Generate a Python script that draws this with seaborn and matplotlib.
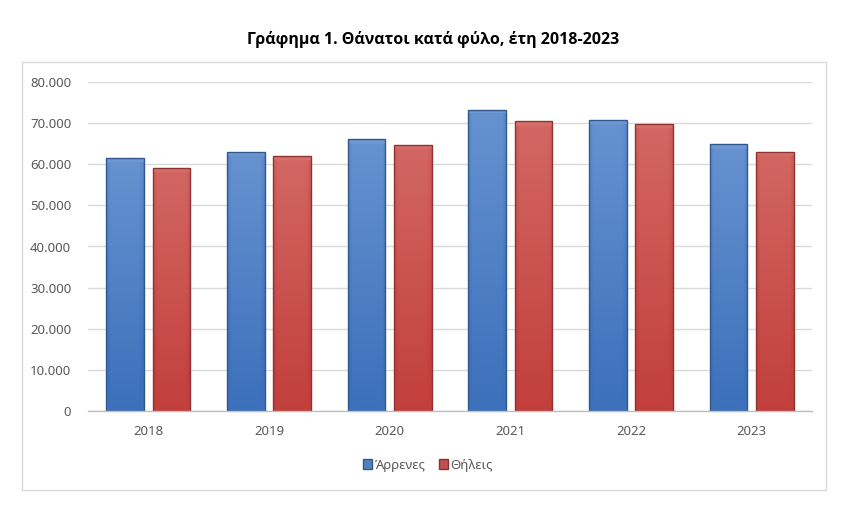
import matplotlib
matplotlib.use("Agg")
import matplotlib.pyplot as plt
import matplotlib.patches as mpatches
from matplotlib.ticker import FuncFormatter
from matplotlib.colors import LinearSegmentedColormap
import numpy as np
import pandas as pd
import seaborn as sns

years = ["2018", "2019", "2020", "2021", "2022", "2023"]
males = [61500, 63100, 66100, 73300, 70800, 64900]
females = [59000, 61900, 64800, 70400, 69900, 63100]
series_names = ["Άρρενες", "Θήλεις"]
title = "Γράφημα 1. Θάνατοι κατά φύλο, έτη 2018-2023"

df = pd.DataFrame({
    "year": years * 2,
    "value": males + females,
    "sex": [series_names[0]] * len(years) + [series_names[1]] * len(years),
})

sns.set_theme(style="white")
plt.rcParams["font.family"] = ["Noto Sans", "DejaVu Sans"]

fig = plt.figure(figsize=(8.62, 5.05), dpi=100)
ax = fig.add_axes([88/862, 94/505, 724/862, 329/505])

colors = {"Άρρενες": "#4F81BD", "Θήλεις": "#C0504D"}
edges = {"Άρρενες": "#31598C", "Θήλεις": "#8C3431"}
sns.barplot(data=df, x="year", y="value", hue="sex", palette=colors,
            width=0.77, gap=0.19, ax=ax, legend=False, saturation=1)

grad = {"Άρρενες": ("#3C70BB", "#6E98D4"), "Θήλεις": ("#C23F3C", "#D66E6A")}
n = len(years)
for i, p in enumerate(ax.patches):
    key = series_names[0] if i < n else series_names[1]
    cmap = LinearSegmentedColormap.from_list("g", [grad[key][0], grad[key][1]])
    x0, y0 = p.get_x(), p.get_y()
    w, h = p.get_width(), p.get_height()
    xs = np.linspace(0, 1, 60)
    side = 1 - np.clip(np.minimum(xs, 1 - xs) / 0.12, 0, 1)
    vert = np.linspace(0, 1, 300)[:, None]
    img = vert * 0.85 - side[None, :] * 0.25
    top_frac = 4.0 / (h / 80000 * 329)
    img = np.where(vert > 1 - top_frac, 1.0, img)
    im = ax.imshow(img, cmap=cmap, vmin=0, vmax=1, aspect="auto",
                   extent=[x0, x0 + w, y0, y0 + h], origin="lower",
                   zorder=p.get_zorder() + 0.1)
    im.set_clip_path(p)
    ol = mpatches.Rectangle((x0, y0), w, h, fill=False, edgecolor=edges[key], lw=1.0,
                            zorder=p.get_zorder() + 0.2)
    ax.add_patch(ol)

ax.set_xlim(-0.5, 5.5)
ax.set_ylim(0, 80000)
ax.set_yticks(np.arange(0, 80001, 10000))
ax.yaxis.set_major_formatter(FuncFormatter(lambda v, _: f"{int(v):,}".replace(",", ".")))
ax.grid(axis="y", color="#D9D9D9", lw=1.0)
ax.set_axisbelow(True)
for s in ["top", "right", "left"]:
    ax.spines[s].set_visible(False)
ax.spines["bottom"].set_color("#BFBFBF")
ax.spines["bottom"].set_linewidth(1.0)
ax.tick_params(axis="y", length=0, pad=12, labelsize=9.5, labelcolor="#595959")
ax.tick_params(axis="x", length=0, pad=10, labelsize=9.5, labelcolor="#595959")
ax.set_xlabel("")
ax.set_ylabel("")

fig.text(433/862, 1 - 40/505, title, ha="center", va="center", fontsize=11.5,
         fontweight="bold", color="#000000", family=["Open Sans", "DejaVu Sans"])

border = mpatches.Rectangle((22/862, 15/505), 804/862, 428/505, transform=fig.transFigure,
                            fill=False, edgecolor="#D9D9D9", lw=1.0)
fig.add_artist(border)

handles = [mpatches.Patch(facecolor=colors[k], edgecolor=edges[k], label=k) for k in series_names]
fig.legend(handles=handles, loc="center", bbox_to_anchor=(428/862, 1 - 465/505), ncol=2,
           frameon=False, fontsize=9.5, handlelength=0.7, handleheight=0.7, handletextpad=0.2,
           columnspacing=1.0, labelcolor="#595959")

fig.savefig("out.png", dpi=100)
